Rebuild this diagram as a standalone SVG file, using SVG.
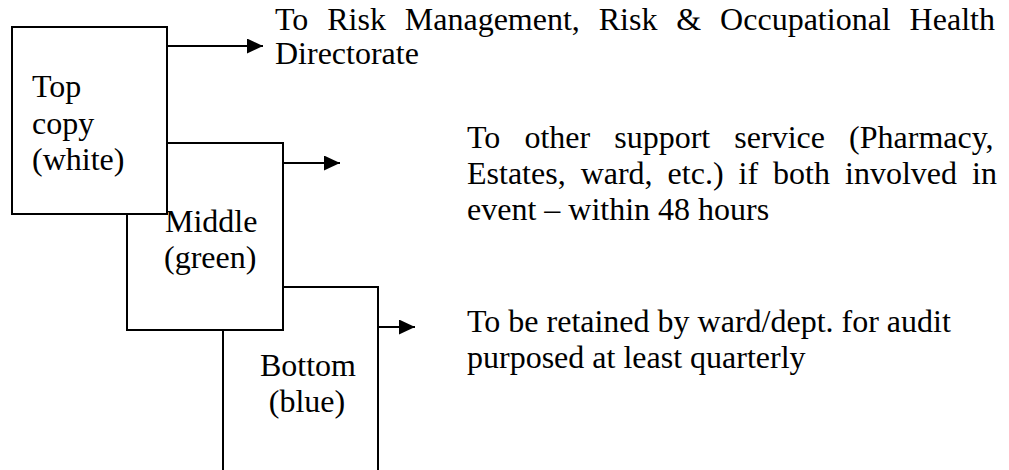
<svg xmlns="http://www.w3.org/2000/svg" width="1009" height="470" viewBox="0 0 1009 470">
<style>
  .box { fill: #ffffff; stroke: #000000; stroke-width: 2; }
  .lbl { font-family: "Liberation Serif", "Times New Roman", serif; font-size: 32px; fill: #000000; }
  .conn { stroke: #000000; stroke-width: 2; fill: none; }
</style>
<defs>
  <marker id="arrow" markerUnits="userSpaceOnUse" markerWidth="17" markerHeight="15" refX="16" refY="7.5" orient="auto">
    <path d="M0,0 L16,7.5 L0,15 Z" fill="#000000"/>
  </marker>
</defs>
<rect x="0" y="0" width="1009" height="470" fill="#ffffff"/>

<g id="node-bottom">
  <rect class="box" x="223" y="287" width="155" height="220"/>
  <text class="lbl" x="308" y="376" text-anchor="middle">Bottom</text>
  <text class="lbl" x="307" y="412" text-anchor="middle">(blue)</text>
</g>

<g id="node-middle">
  <rect class="box" x="127" y="143" width="156" height="187"/>
  <text class="lbl" x="165" y="232">Middle</text>
  <text class="lbl" x="164" y="268">(green)</text>
</g>

<g id="node-top">
  <rect class="box" x="12" y="27" width="155" height="187"/>
  <text class="lbl" x="32" y="97">Top</text>
  <text class="lbl" x="32" y="133.5">copy</text>
  <text class="lbl" x="32" y="170">(white)</text>
</g>

<g id="connectors">
  <line class="conn" x1="167" y1="46" x2="263" y2="46" marker-end="url(#arrow)"/>
  <line class="conn" x1="283" y1="163" x2="340" y2="163" marker-end="url(#arrow)"/>
  <line class="conn" x1="378" y1="327" x2="415" y2="327" marker-end="url(#arrow)"/>
</g>

<g id="note-risk">
  <text class="lbl" x="275" y="30" word-spacing="10.9">To Risk Management, Risk &amp; Occupational Health</text>
  <text class="lbl" x="275" y="64">Directorate</text>
</g>

<g id="note-support">
  <text class="lbl" x="467" y="148" word-spacing="16.1">To other support service (Pharmacy,</text>
  <text class="lbl" x="467" y="184" word-spacing="7">Estates, ward, etc.) if both involved in</text>
  <text class="lbl" x="467" y="220">event – within 48 hours</text>
</g>

<g id="note-retain">
  <text class="lbl" x="467" y="332">To be retained by ward/dept. for audit</text>
  <text class="lbl" x="467" y="368">purposed at least quarterly</text>
</g>
</svg>
